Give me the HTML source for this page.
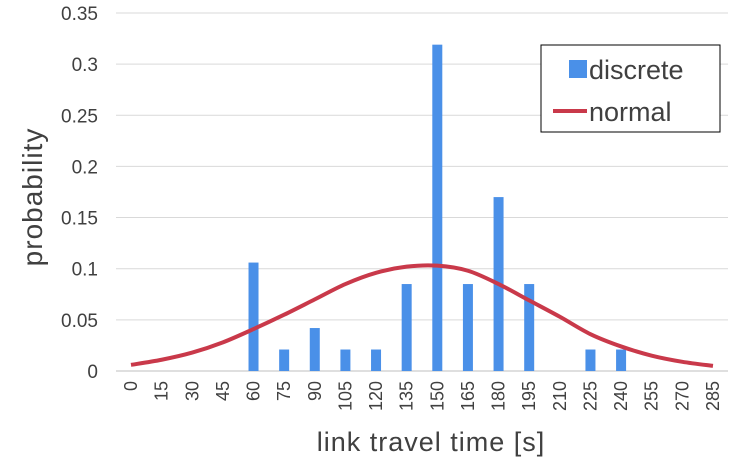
<!DOCTYPE html>
<html><head><meta charset="utf-8"><style>
body{margin:0;background:#fff;}
svg text{font-family:"Liberation Sans",sans-serif;fill:#404040;}
</style></head><body>
<svg id="chart" width="730" height="470" viewBox="0 0 730 470">
<g id="grid"></g><g id="bars"></g><g id="line"></g><g id="xt"></g><g id="yt"></g>
<text x="0" y="0" transform="translate(42,197) rotate(-90)" text-anchor="middle" font-size="28" letter-spacing="1">probability</text>
<text x="431" y="451" text-anchor="middle" font-size="27" letter-spacing="1">link travel time [s]</text>
<g>
<rect x="541" y="45" width="179" height="87" fill="#fff" stroke="#000" stroke-width="1"/>
<g><rect x="569" y="60" width="18" height="18" fill="#4a90e8"/><text x="589" y="79" font-size="27">discrete</text></g>
<g><line x1="553" y1="111" x2="587" y2="111" stroke="#c9394a" stroke-width="4"/><text x="589" y="121" font-size="27">normal</text></g>
</g>
</svg>
<script>
const categories=[0,15,30,45,60,75,90,105,120,135,150,165,180,195,210,225,240,255,270,285];
const discrete=[0,0,0,0,0.106,0.021,0.042,0.021,0.021,0.085,0.319,0.085,0.170,0.085,0,0.021,0.021,0,0,0];
const normal=[0.006,0.011,0.018,0.028,0.041,0.055,0.070,0.085,0.096,0.102,0.103,0.098,0.085,0.069,0.053,0.036,0.024,0.015,0.009,0.005];
const yTicks=[0,0.05,0.1,0.15,0.2,0.25,0.3,0.35];
const yLabels=["0","0.05","0.1","0.15","0.2","0.25","0.3","0.35"];
const NS="http://www.w3.org/2000/svg";
const x0=131,step=30.63,yb=371,yScale=1023;
const X=i=>x0+i*step, Y=v=>yb-v*yScale;
function mk(t,a,p){const e=document.createElementNS(NS,t);for(const k in a)e.setAttribute(k,a[k]);p.appendChild(e);return e;}
const grid=document.getElementById('grid'),yt=document.getElementById('yt');
yTicks.forEach((v,i)=>{
 const l=mk('line',{x1:116,x2:728,y1:Y(v),y2:Y(v),stroke:i==0?'#bfbfbf':'#d9d9d9','stroke-width':1},grid);
 
 
 const t=mk('text',{x:98,y:Y(v)+7,'text-anchor':'end','font-size':19},yt);
 t.textContent=yLabels[i];
 
 
});
const bars=document.getElementById('bars'),xt=document.getElementById('xt');
categories.forEach((c,i)=>{
 if(discrete[i]>0){
  const r=mk('rect',{x:X(i)-5,y:Y(discrete[i]),width:10,height:discrete[i]*yScale,fill:'#4a90e8'},bars);
  
  
 }
 const t=mk('text',{x:0,y:0,transform:`translate(${X(i)+6},381) rotate(-90)`,'text-anchor':'end','font-size':18},xt);
 t.textContent=c;
 
 
});
const pts=normal.map((v,i)=>[X(i),Y(v)]);
let d=`M${pts[0][0]},${pts[0][1]}`;
for(let i=0;i<pts.length-1;i++){
 const p0=pts[i-1]||pts[i],p1=pts[i],p2=pts[i+1],p3=pts[i+2]||p2;
 d+=` C${p1[0]+(p2[0]-p0[0])/6},${p1[1]+(p2[1]-p0[1])/6} ${p2[0]-(p3[0]-p1[0])/6},${p2[1]-(p3[1]-p1[1])/6} ${p2[0]},${p2[1]}`;
}
const path=mk('path',{d:d,fill:'none',stroke:'#c9394a','stroke-width':4},document.getElementById('line'));


</script>
</body></html>
